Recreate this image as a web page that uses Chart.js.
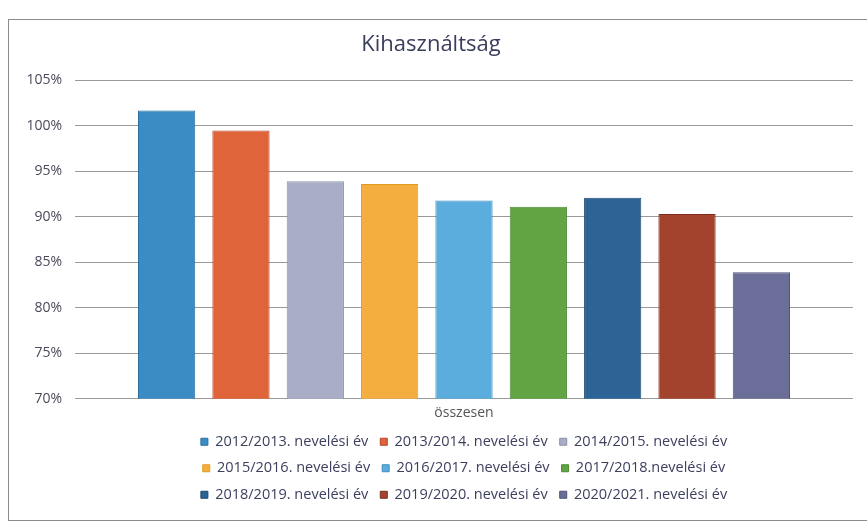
<!DOCTYPE html>
<html>
<head>
<meta charset="utf-8">
<script src="https://cdn.jsdelivr.net/npm/chart.js@4.4.0/dist/chart.umd.min.js"></script>
<style>
  html, body { margin: 0; padding: 0; background: #fff; }
  #wrap {
    position: absolute; left: 8px; top: 19px;
    width: 859px; height: 500px;
    border: 1px solid #8c8c8c; border-right: none;
    background: #fff;
  }
</style>
</head>
<body>
<div id="wrap"><canvas id="chart"></canvas></div>
<script>
// adatok
const categories = ['összesen'];
const seasons = [
    '2012/2013. nevelési év', '2013/2014. nevelési év', '2014/2015. nevelési év',
    '2015/2016. nevelési év', '2016/2017. nevelési év', '2017/2018.nevelési év',
    '2018/2019. nevelési év', '2019/2020. nevelési év', '2020/2021. nevelési év'
];
const utilization = [101.7, 99.5, 93.9, 93.6, 91.8, 91.1, 92.1, 90.3, 83.9];
const yTicks = [70, 75, 80, 85, 90, 95, 100, 105];

const fills = ['#3b8cc4', '#df6439', '#a9aec6', '#f4ae3f', '#5aaddc', '#62a443', '#2c6496', '#a3432d', '#6b6e98'];
const borders = ['#2a6f9f', '#b9442a', '#8a90a8', '#e09a20', '#3f8fbf', '#4a8a30', '#1f4a72', '#7f2e1e', '#4e5178'];

const datasets = seasons.map(function(s, i) {
    return {
        label: s,
        data: [utilization[i]],
        backgroundColor: fills[i],
        borderColor: borders[i],
        borderWidth: 1
    };
});

const font = "'Open Sans', 'Liberation Sans', sans-serif";

// legend: 3 items per row, like in the Excel chart
const legendRows = {
    id: 'legendRows',
    beforeLayout: function(chart) {
        const lg = chart.legend;
        if (!lg || lg._rowsPatched) return;
        const orig = lg.update;
        lg.update = function(maxWidth, maxHeight, margins) {
            return orig.call(this, Math.min(maxWidth, 560), maxHeight, margins);
        };
        lg._rowsPatched = true;
    }
};

new Chart(document.getElementById('chart'), {
    type: 'bar',
    data: { labels: categories, datasets: datasets },
    plugins: [legendRows],
    options: {
        responsive: true,
        maintainAspectRatio: false,
        animation: false,
        layout: { padding: { left: 0, right: 15, top: 0, bottom: 8 } },
        datasets: { bar: { categoryPercentage: 0.86, barPercentage: 0.77 } },
        plugins: {
            title: {
                display: true,
                text: 'Kihasználtság',
                color: '#3a3d5c',
                font: { family: font, size: 22, weight: 'normal' },
                padding: { top: 12, bottom: 22 }
            },
            legend: {
                position: 'bottom',
                fullSize: false,
                labels: {
                    boxWidth: 7,
                    boxHeight: 7,
                    padding: 12,
                    color: '#3c3f5e',
                    font: { family: font, size: 14.5 }
                }
            },
            tooltip: { enabled: false }
        },
        scales: {
            x: {
                grid: { display: false, drawTicks: false },
                border: { display: false },
                afterFit: function(scale) { scale.height -= 5; },
                ticks: { color: '#555', padding: 6, font: { family: font, size: 14 } }
            },
            y: {
                min: 70,
                max: 105,
                afterFit: function(scale) { scale.width = 66; },
                afterBuildTicks: function(scale) {
                    scale.ticks = yTicks.map(function(v) { return { value: v }; });
                },
                grid: { color: '#9a9a9a', drawTicks: false },
                border: { display: false },
                ticks: {
                    color: '#4a4a5a',
                    padding: 13,
                    font: { family: font, size: 14 },
                    callback: function(v) { return v + '%'; }
                }
            }
        }
    }
});
</script>
</body>
</html>
